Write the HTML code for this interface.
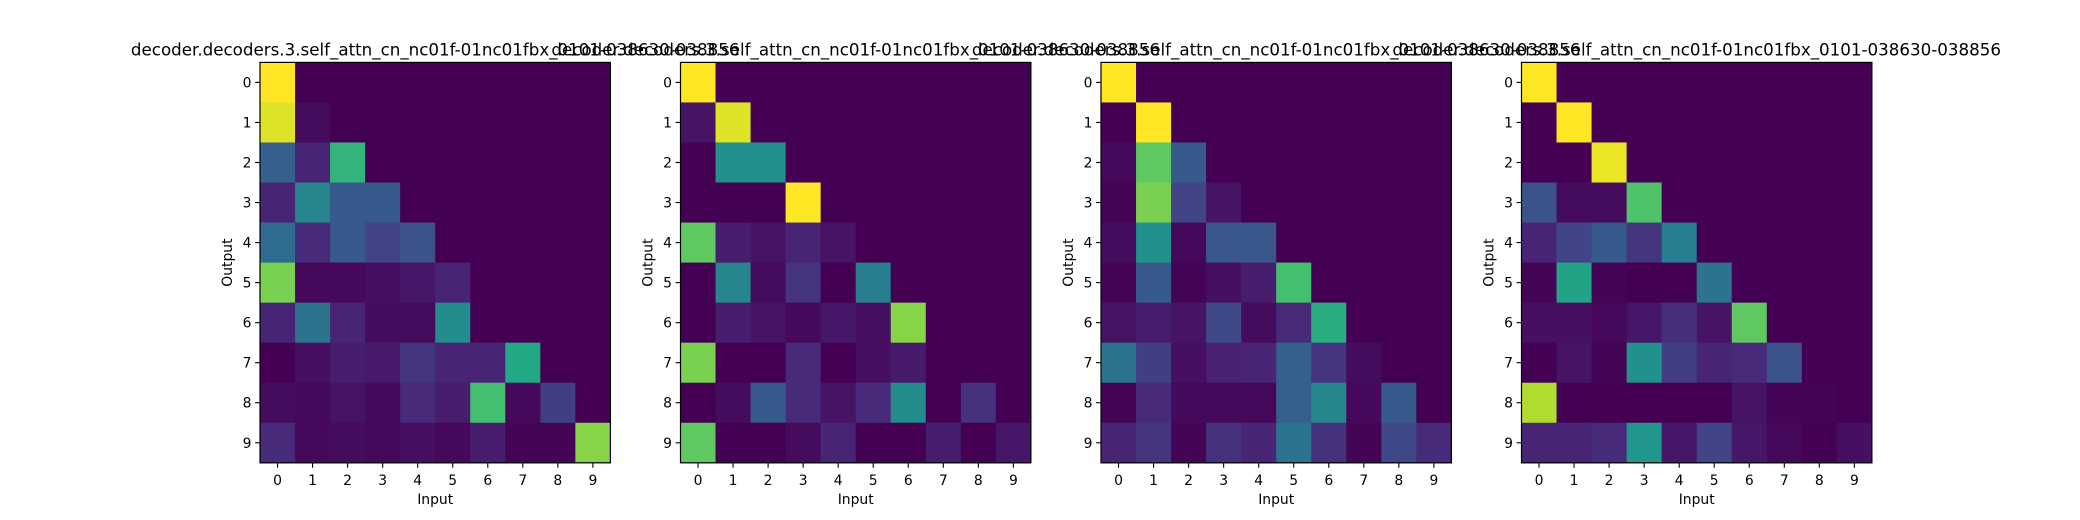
<!DOCTYPE html>
<html><head><meta charset="utf-8"><style>
html,body{margin:0;padding:0;background:#fff;}
svg{display:block;font-family:"DejaVu Sans","Liberation Sans",sans-serif;}
</style></head><body>
<svg id="fig" width="2080" height="520" xmlns="http://www.w3.org/2000/svg"></svg>
<script>
const titles = ["decoder.decoders.3.self_attn_cn_nc01f-01nc01fbx_0101-038630-038856","decoder.decoders.3.self_attn_cn_nc01f-01nc01fbx_0101-038630-038856","decoder.decoders.3.self_attn_cn_nc01f-01nc01fbx_0101-038630-038856","decoder.decoders.3.self_attn_cn_nc01f-01nc01fbx_0101-038630-038856"];
const tickLabels = ["0","1","2","3","4","5","6","7","8","9"];
const head1 = [
[1],
[0.95,0.03],
[0.3,0.1,0.65],
[0.1,0.45,0.28,0.28],
[0.35,0.12,0.28,0.2,0.25],
[0.8,0.02,0.02,0.04,0.06,0.1],
[0.1,0.38,0.1,0.03,0.03,0.48,0],
[0,0.04,0.08,0.07,0.15,0.1,0.1,0.6],
[0.03,0.02,0.05,0.02,0.12,0.08,0.7,0.02,0.18],
[0.12,0.02,0.03,0.02,0.04,0.02,0.08,0.01,0.01,0.82]];
const head2 = [
[1],
[0.05,0.95],
[0,0.5,0.5],
[0,0,0,1],
[0.75,0.08,0.05,0.1,0.05],
[0,0.45,0.03,0.15,0,0.42],
[0,0.08,0.05,0.02,0.06,0.04,0.82],
[0.8,0,0,0.12,0,0.04,0.07],
[0,0.03,0.28,0.12,0.05,0.12,0.48,0,0.14,0],
[0.75,0,0,0.03,0.1,0,0,0.08,0,0.06]];
const head3 = [
[1],
[0,1],
[0.02,0.75,0.28],
[0.01,0.8,0.2,0.05],
[0.03,0.5,0.02,0.27,0.27],
[0.01,0.28,0.01,0.04,0.08,0.7],
[0.05,0.08,0.05,0.22,0.03,0.12,0.62],
[0.38,0.18,0.04,0.09,0.1,0.3,0.15,0.03],
[0.01,0.12,0.02,0.02,0.02,0.3,0.45,0.02,0.28,0],
[0.1,0.15,0.01,0.14,0.1,0.38,0.14,0.01,0.22,0.12]];
const head4 = [
[1],
[0,1],
[0,0,0.97],
[0.25,0.03,0.03,0.72],
[0.1,0.2,0.28,0.15,0.42],
[0.01,0.58,0.01,0,0,0.38],
[0.04,0.04,0.02,0.06,0.13,0.05,0.75],
[0,0.05,0.01,0.5,0.18,0.1,0.12,0.25],
[0.88,0,0,0,0,0,0.05,0.01,0.01,0],
[0.1,0.1,0.12,0.52,0.06,0.2,0.06,0.02,0,0.04]];
const heads = [head1,head2,head3,head4];

const VIR=[[68,1,84],[72,36,117],[65,68,135],[53,95,141],[42,120,142],[33,145,140],[34,168,132],[68,191,112],[122,209,81],[189,223,38],[253,231,37]];
function viridis(t){t=Math.max(0,Math.min(1,t));const p=t*10,i=Math.min(9,Math.floor(p)),f=p-i;
const a=VIR[i],b=VIR[i+1];return 'rgb('+a.map((v,k)=>Math.round(v+(b[k]-v)*f)).join(',')+')';}
const NS="http://www.w3.org/2000/svg";
const svg=document.getElementById('fig');
function mk(tag,attrs,parent){const e=document.createElementNS(NS,tag);for(const k in attrs)e.setAttribute(k,attrs[k]);(parent||svg).appendChild(e);return e;}
const W=350.4,H=400.4,axTop=62.4,lefts=[260,680.5,1101,1521.5];
heads.forEach((m,p)=>{
  const L=lefts[p];
  const g=mk('g',{});
  
  
  const xs=c=>L+c*W/10, ys=r=>axTop+r*H/10;
  for(let r=0;r<10;r++)for(let c=0;c<10;c++){
    const v=(m[r]&&m[r][c]!==undefined)?m[r][c]:0;
    const rc=mk('rect',{x:xs(c),y:ys(r),width:W/10+0.6,height:H/10+0.6,fill:viridis(v)},g);
    
    
  }
  const fr=mk('rect',{x:L,y:axTop,width:W,height:H,fill:'none',stroke:'#000','stroke-width':1.2},g);
  
  
  tickLabels.forEach((t,i)=>{
    const cx=xs(i+0.5), cy=ys(i+0.5);
    mk('line',{x1:cx,y1:axTop+H,x2:cx,y2:axTop+H+4.9,stroke:'#000','stroke-width':1.1},g);
    const xt=mk('text',{x:cx,y:axTop+H+22,'font-size':13.9,'text-anchor':'middle'},g);xt.textContent=t;
    
    
    mk('line',{x1:L,y1:cy,x2:L-4.9,y2:cy,stroke:'#000','stroke-width':1.1},g);
    const yt=mk('text',{x:L-8.5,y:cy+5,'font-size':13.9,'text-anchor':'end'},g);yt.textContent=t;
    
    
  });
  const xl=mk('text',{x:L+W/2,y:axTop+H+41,'font-size':13.9,'text-anchor':'middle'},g);xl.textContent='Input';
  
  
  const yl=mk('text',{x:0,y:0,'font-size':13.9,'text-anchor':'middle',transform:'translate('+(L-28)+','+(axTop+H/2)+') rotate(-90)'},g);yl.textContent='Output';
  
  
  const tt=mk('text',{x:L+W/2,y:axTop-7,'font-size':16.7,'text-anchor':'middle'},g);tt.textContent=titles[p];
  
  
});
</script>
</body></html>
